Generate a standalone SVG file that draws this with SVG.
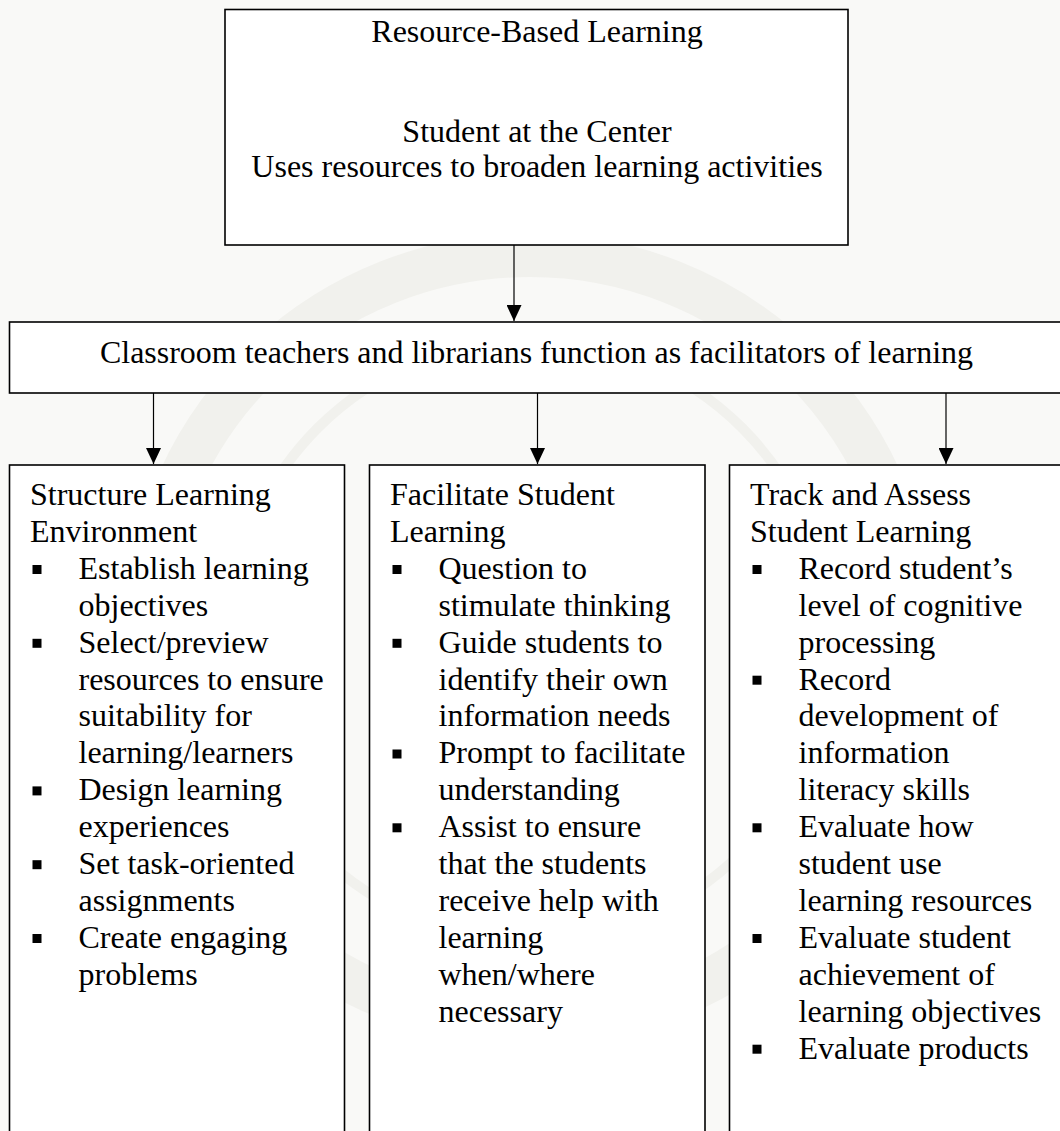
<svg xmlns="http://www.w3.org/2000/svg" width="1060" height="1131" viewBox="0 0 1060 1131">
  <style>
    .box { fill: #ffffff; stroke: #000000; stroke-width: 1.6; }
    .t { font-family: "Liberation Serif", "Times New Roman", serif; font-size: 32px; fill: #000000; }
    .c { text-anchor: middle; }
    .wire { stroke: #000000; stroke-width: 1.2; fill: none; marker-end: url(#head); }
    .dot { fill: #000000; }
    .seal { fill: none; stroke: #f1f1ed; }
  </style>
  <defs>
    <marker id="head" markerUnits="userSpaceOnUse" markerWidth="16" markerHeight="15" refX="16" refY="7.5" orient="auto">
      <path d="M0,0 L16,7.5 L0,15 Z" fill="#000000"/>
    </marker>
  </defs>

  <!-- page background with a faint seal behind the chart -->
  <rect x="0" y="0" width="1060" height="1131" fill="#f9f9f7"/>
  <g id="seal">
    <circle class="seal" cx="530" cy="640" r="385" stroke-width="44"/>
    <circle class="seal" cx="530" cy="640" r="300" stroke-width="10"/>
  </g>

  <!-- connectors -->
  <g id="connectors">
    <line class="wire" x1="514" y1="245" x2="514" y2="321"/>
    <line class="wire" x1="153.5" y1="393" x2="153.5" y2="464"/>
    <line class="wire" x1="537.5" y1="393" x2="537.5" y2="464"/>
    <line class="wire" x1="946" y1="393" x2="946" y2="464"/>
  </g>

  <!-- top node -->
  <g id="rbl">
    <rect class="box" x="225" y="9.5" width="623" height="235.5"/>
    <text class="t c" x="537" y="42">Resource-Based Learning</text>
    <text class="t c" x="537" y="142">Student at the Center</text>
    <text class="t c" x="537" y="177">Uses resources to broaden learning activities</text>
  </g>

  <!-- facilitators node -->
  <g id="facilitators">
    <rect class="box" x="9.5" y="322" width="1070" height="71"/>
    <text class="t" x="100" y="363" textLength="873" lengthAdjust="spacingAndGlyphs">Classroom teachers and librarians function as facilitators of learning</text>
  </g>

  <!-- left column -->
  <g id="structure">
    <rect class="box" x="9.5" y="465" width="335" height="700"/>
    <text class="t" x="30" y="505">Structure Learning</text>
    <text class="t" x="30" y="541.9">Environment</text>
    <rect class="dot" x="32.5" y="565" width="9" height="9"/>
    <text class="t" x="78.5" y="578.8">Establish learning</text>
    <text class="t" x="78.5" y="615.7">objectives</text>
    <rect class="dot" x="32.5" y="638.8" width="9" height="9"/>
    <text class="t" x="78.5" y="652.6">Select/preview</text>
    <text class="t" x="78.5" y="689.5">resources to ensure</text>
    <text class="t" x="78.5" y="726.4">suitability for</text>
    <text class="t" x="78.5" y="763.3">learning/learners</text>
    <rect class="dot" x="32.5" y="786.4" width="9" height="9"/>
    <text class="t" x="78.5" y="800.2">Design learning</text>
    <text class="t" x="78.5" y="837.1">experiences</text>
    <rect class="dot" x="32.5" y="860.2" width="9" height="9"/>
    <text class="t" x="78.5" y="874">Set task-oriented</text>
    <text class="t" x="78.5" y="910.9">assignments</text>
    <rect class="dot" x="32.5" y="934" width="9" height="9"/>
    <text class="t" x="78.5" y="947.8">Create engaging</text>
    <text class="t" x="78.5" y="984.7">problems</text>
  </g>

  <!-- middle column -->
  <g id="facilitate">
    <rect class="box" x="369.5" y="465" width="335.5" height="700"/>
    <text class="t" x="390" y="505">Facilitate Student</text>
    <text class="t" x="390" y="541.9">Learning</text>
    <rect class="dot" x="392.5" y="565" width="9" height="9"/>
    <text class="t" x="438.5" y="578.8">Question to</text>
    <text class="t" x="438.5" y="615.7">stimulate thinking</text>
    <rect class="dot" x="392.5" y="638.8" width="9" height="9"/>
    <text class="t" x="438.5" y="652.6">Guide students to</text>
    <text class="t" x="438.5" y="689.5">identify their own</text>
    <text class="t" x="438.5" y="726.4">information needs</text>
    <rect class="dot" x="392.5" y="749.5" width="9" height="9"/>
    <text class="t" x="438.5" y="763.3">Prompt to facilitate</text>
    <text class="t" x="438.5" y="800.2">understanding</text>
    <rect class="dot" x="392.5" y="823.3" width="9" height="9"/>
    <text class="t" x="438.5" y="837.1">Assist to ensure</text>
    <text class="t" x="438.5" y="874">that the students</text>
    <text class="t" x="438.5" y="910.9">receive help with</text>
    <text class="t" x="438.5" y="947.8">learning</text>
    <text class="t" x="438.5" y="984.7">when/where</text>
    <text class="t" x="438.5" y="1021.6">necessary</text>
  </g>

  <!-- right column -->
  <g id="assess">
    <rect class="box" x="729.5" y="465" width="336" height="700"/>
    <text class="t" x="750" y="505">Track and Assess</text>
    <text class="t" x="750" y="541.9">Student Learning</text>
    <rect class="dot" x="752.5" y="565" width="9" height="9"/>
    <text class="t" x="798.5" y="578.8">Record student’s</text>
    <text class="t" x="798.5" y="615.7">level of cognitive</text>
    <text class="t" x="798.5" y="652.6">processing</text>
    <rect class="dot" x="752.5" y="675.7" width="9" height="9"/>
    <text class="t" x="798.5" y="689.5">Record</text>
    <text class="t" x="798.5" y="726.4">development of</text>
    <text class="t" x="798.5" y="763.3">information</text>
    <text class="t" x="798.5" y="800.2">literacy skills</text>
    <rect class="dot" x="752.5" y="823.3" width="9" height="9"/>
    <text class="t" x="798.5" y="837.1">Evaluate how</text>
    <text class="t" x="798.5" y="874">student use</text>
    <text class="t" x="798.5" y="910.9">learning resources</text>
    <rect class="dot" x="752.5" y="934" width="9" height="9"/>
    <text class="t" x="798.5" y="947.8">Evaluate student</text>
    <text class="t" x="798.5" y="984.7">achievement of</text>
    <text class="t" x="798.5" y="1021.6">learning objectives</text>
    <rect class="dot" x="752.5" y="1044.7" width="9" height="9"/>
    <text class="t" x="798.5" y="1058.5">Evaluate products</text>
  </g>
</svg>
